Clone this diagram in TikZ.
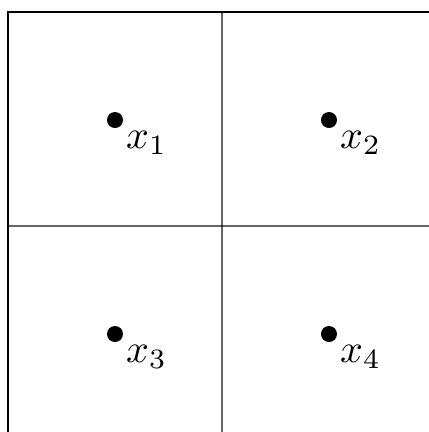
\documentclass[tikz,border=0pt]{standalone}
\begin{document}
\begin{tikzpicture}[x=0.25pt,y=-0.25pt,
  outer/.style={line width=0.45pt,black},
  inner/.style={line width=0.5pt,black,draw opacity=0.6},
  pt/.style={circle,fill=black,inner sep=0pt,minimum size=4pt},
  lab/.style={anchor=north west,inner sep=2.6pt}]
\useasboundingbox (0,0) rectangle (429,432);
\begin{scope}
\clip (0,0) rectangle (429,432);
\draw[inner] (222,12) -- (222,440);
\draw[inner] (8,226) -- (436,226);
\draw[outer] (8,440) -- (8,12) -- (436,12);
\end{scope}
\node[pt] (p1) at (115,120) {};
\node[pt] (p2) at (329,120) {};
\node[pt] (p3) at (115,334) {};
\node[pt] (p4) at (329,334) {};
\node[lab] (l1) at (p1.center) {$x_1$};
\node[lab] (l2) at (p2.center) {$x_2$};
\node[lab] (l3) at (p3.center) {$x_3$};
\node[lab] (l4) at (p4.center) {$x_4$};
\end{tikzpicture}
\end{document}
